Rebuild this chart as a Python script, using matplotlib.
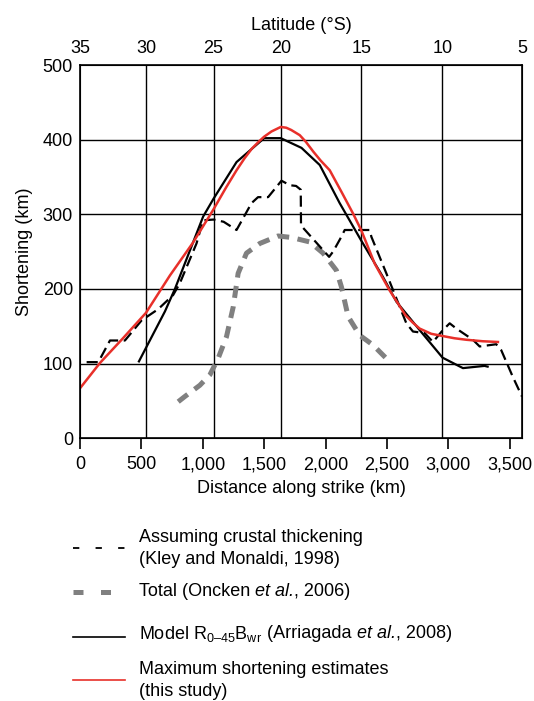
import matplotlib
matplotlib.use("Agg")
import matplotlib.pyplot as plt
from matplotlib.lines import Line2D

plt.rcParams['font.family'] = ['Liberation Sans', 'DejaVu Sans']
plt.rcParams['mathtext.fontset'] = 'custom'
plt.rcParams['mathtext.rm'] = 'Liberation Sans'
plt.rcParams['mathtext.it'] = 'Liberation Sans:italic'

FS = 13

# distance along strike (km) vs shortening (km)
kley_km = [54, 149, 244, 366, 502, 637, 759, 814, 949, 1003, 1088, 1170, 1275, 1397, 1450,
           1532, 1641, 1709, 1760, 1798, 1800, 2029, 2061, 2129, 2156, 2360, 2373, 2495,
           2658, 2712, 2807, 2875, 2956, 3011, 3065, 3200, 3255, 3390, 3431, 3526, 3600]
kley_val = [102, 102, 131, 131, 158, 173, 192, 208, 261, 292, 293, 290, 279, 315, 323,
            323, 345, 339, 338, 333, 285, 243, 250, 270, 279, 279, 270, 221,
            154, 143, 141, 129, 145, 154, 147, 132, 123, 126, 118, 82, 56]

oncken_km = [800, 854, 976, 1058, 1125, 1193, 1248, 1288, 1356, 1465, 1613, 1722, 1871,
             1980, 2088, 2129, 2184, 2278, 2386, 2495, 2531]
oncken_val = [49, 56, 71, 85, 107, 136, 176, 221, 248, 261, 271, 269, 263,
              248, 225, 203, 163, 138, 125, 107, 101]

arriagada_km = [480, 692, 773, 1003, 1088, 1275, 1500, 1635, 1804, 1953, 2115, 2290,
                2468, 2577, 2766, 2953, 3119, 3295, 3320]
arriagada_val = [103, 170, 200, 297, 321, 370, 402, 402, 389, 366, 315, 265,
                 216, 183, 145, 108, 94, 97, 96]

max_km = [0, 163, 350, 537, 732, 920, 1085, 1190, 1275, 1340, 1400, 1460, 1500, 1560,
          1635, 1680, 1720, 1760, 1790, 1840, 1900, 1960, 2034, 2130, 2224, 2290, 2400,
          2522, 2600, 2650, 2710, 2766, 2820, 2860, 2953, 3050, 3146, 3280, 3404]
max_val = [67, 101, 134, 168, 218, 262, 306, 336, 359, 375, 388, 398, 404, 411,
           417, 416, 413, 409, 406, 397, 384, 372, 359, 330, 301, 279, 234,
           198, 178, 165, 155, 147, 143, 140, 137, 134, 132, 130, 129]

# latitude (degrees S) and where it falls along strike
lat_labels = ['35', '30', '25', '20', '15', '10', '5']
lat_km = [0, 537, 1088, 1635, 2292, 2951, 3600]

dist_ticks = [0, 500, 1000, 1500, 2000, 2500, 3000, 3500]
dist_labels = ['0', '500', '1,000', '1,500', '2,000', '2,500', '3,000', '3,500']
short_ticks = [0, 100, 200, 300, 400, 500]

fig = plt.figure(figsize=(5.34, 7.01), dpi=100)
ax = fig.add_axes([80 / 534, 1 - 438.3 / 701, 442 / 534, 373.3 / 701])

for k in lat_km[1:-1]:
    ax.axvline(k, color='k', lw=1.0, zorder=1)
for v in short_ticks[1:-1]:
    ax.axhline(v, color='k', lw=1.0, zorder=1)

ax.plot(kley_km, kley_val, color='k', lw=1.6, dashes=(5, 2.5), zorder=3)
ax.plot(oncken_km, oncken_val, color='#808080', lw=3.6, dashes=(2.4, 1.7), zorder=2)
ax.plot(arriagada_km, arriagada_val, color='k', lw=1.6, zorder=3)
ax.plot(max_km, max_val, color='#e8302a', lw=1.8, zorder=4)

ax.set_xlim(0, 3600)
ax.set_ylim(0, 500)
ax.set_xticks(dist_ticks)
ax.set_xticklabels(dist_labels, fontsize=FS)
ax.set_yticks(short_ticks)
ax.set_yticklabels([str(v) for v in short_ticks], fontsize=FS)
ax.tick_params(axis='x', direction='out', length=8, width=1.2, pad=5)
ax.tick_params(axis='y', length=0, pad=5)
for s in ax.spines.values():
    s.set_linewidth(1.2)
ax.set_xlabel('Distance along strike (km)', fontsize=FS, labelpad=5)
ax.set_ylabel('Shortening (km)', fontsize=FS, labelpad=7)

top = ax.twiny()
top.set_xlim(0, 3600)
top.set_xticks(lat_km)
top.set_xticklabels(lat_labels, fontsize=FS)
top.tick_params(axis='x', length=0, pad=6)
top.set_xlabel('Latitude (\u00b0S)', fontsize=FS, labelpad=7)

# legend drawn by hand below the axes
renderer = fig.canvas.get_renderer()

def leg_line(y, **kw):
    fig.add_artist(Line2D([73 / 534, 125 / 534], [1 - y / 701, 1 - y / 701],
                          transform=fig.transFigure, **kw))

def leg_text(y, parts):
    # parts: list of (string, style) drawn one after another
    x = 139 / 534
    for s, style in parts:
        t = fig.text(x, 1 - y / 701, s, fontsize=FS, va='center', ha='left', style=style)
        bb = t.get_window_extent(renderer)
        x += bb.width / fig.bbox.width

leg_line(548, color='k', lw=1.3, dashes=(3.5, 9))
leg_text(537, [('Assuming crustal thickening', 'normal')])
leg_text(560, [('(Kley and Monaldi, 1998)', 'normal')])
leg_line(591.5, color='#808080', lw=3.6, dashes=(2.0, 3.5))
leg_text(591, [('Total (Oncken ', 'normal'), ('et al.', 'italic'), (', 2006)', 'normal')])
leg_line(636.5, color='k', lw=1.2)
leg_text(634, [('Model R$_{\\mathrm{0\u201345}}$B$_{\\mathrm{wr}}$', 'normal'),
               (' (Arriagada ', 'normal'), ('et al.', 'italic'), (', 2008)', 'normal')])
leg_line(680, color='#e8302a', lw=1.2)
leg_text(669, [('Maximum shortening estimates', 'normal')])
leg_text(692, [('(this study)', 'normal')])

fig.savefig('out.png', dpi=100)
